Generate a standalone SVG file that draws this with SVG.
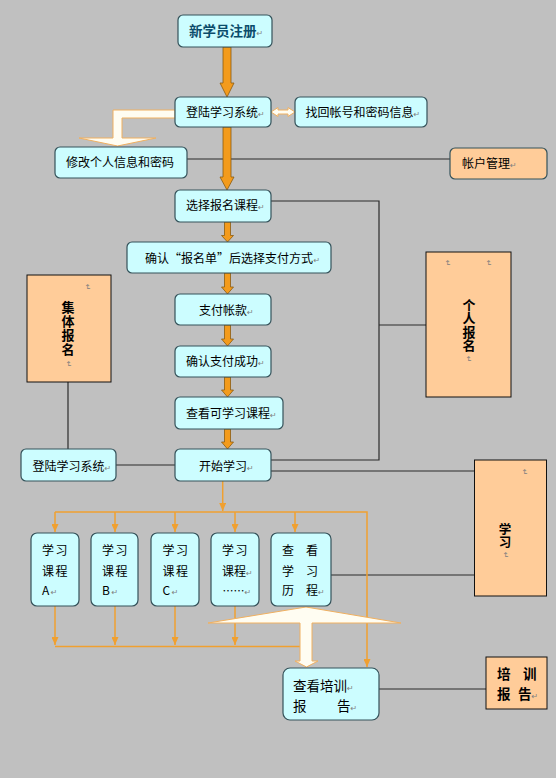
<svg xmlns="http://www.w3.org/2000/svg" width="556" height="778" viewBox="0 0 556 778">
<defs>
<style>
.box{fill:#ccfdff;stroke:#34525a;stroke-width:1.2}
.obox{fill:#ffcc99;stroke:#111;stroke-width:1}
.orbox{fill:#ffcc99;stroke:#34525a;stroke-width:1.2}
.t{font-family:"Noto Sans CJK SC","Liberation Sans",sans-serif;font-size:12px;fill:#000}
.tb{font-family:"Noto Sans CJK SC","Liberation Sans",sans-serif;font-size:13px;font-weight:bold;fill:#000}
.vt{writing-mode:vertical-rl;text-orientation:upright}
.rm{font-family:"DejaVu Sans",sans-serif;font-size:8px;font-weight:normal;fill:#808080}
.ln{stroke:#2b2b2b;stroke-width:1.2;fill:none}
.ol{stroke:#f0a030;stroke-width:1.5;fill:none}
.oa{fill:#f39b1c;stroke:#8a5a10;stroke-width:0.8}
.wa{fill:#fffdf2;stroke:#f0b060;stroke-width:1}
</style>
<marker id="oh" viewBox="0 0 8 7" refX="8" refY="3.5" markerWidth="8" markerHeight="7" markerUnits="userSpaceOnUse" orient="auto">
<path d="M0,0 L8,3.5 L0,7 z" fill="#f0a030"/>
</marker>
</defs>
<rect width="556" height="778" fill="#c0c0c0"/>

<g id="connectors">
<path class="ln" d="M187,159 H450"/>
<path class="ln" d="M271,201 H379 V460 H271"/>
<path class="ln" d="M379,325 H426"/>
<path class="ln" d="M68,382 V449"/>
<path class="ln" d="M116,465 H175"/>
<path class="ln" d="M271,471 H474.5"/>
<path class="ln" d="M330.5,575 H474.5"/>
<path class="ln" d="M379,689 H486"/>
<polygon class="oa" points="223,47 231,47 231,83 234,83 227,97 220,83 223,83"/>
<polygon class="oa" points="223,127 231,127 231,177 234,177 227,190 220,177 223,177"/>
<polygon class="oa" points="224.5,222 230.5,222 230.5,235.5 233.5,235.5 227.5,242 221.5,235.5 224.5,235.5"/>
<polygon class="oa" points="224.5,273 230.5,273 230.5,287 233.5,287 227.5,294 221.5,287 224.5,287"/>
<polygon class="oa" points="224.5,325 230.5,325 230.5,339 233.5,339 227.5,346 221.5,339 224.5,339"/>
<polygon class="oa" points="224.5,377 230.5,377 230.5,390 233.5,390 227.5,397 221.5,390 224.5,390"/>
<polygon class="oa" points="224.5,429 230.5,429 230.5,442 233.5,442 227.5,449 221.5,442 224.5,442"/>
<polygon class="wa" points="175,110 113,110 113,138 79,138 117.5,146 156,138 122,138 122,118 175,118"/>
<polygon class="wa" points="271,112 278,107.5 278,110 288,110 288,107.5 295,112 288,116.5 288,114 278,114 278,116.5"/>
<path class="ol" d="M222.7,481 V511" marker-end="url(#oh)"/>
<path class="ol" d="M55,512 H367 V667" marker-end="url(#oh)"/>
<path class="ol" d="M55,512 V532" marker-end="url(#oh)"/>
<path class="ol" d="M115,512 V532" marker-end="url(#oh)"/>
<path class="ol" d="M175,512 V532" marker-end="url(#oh)"/>
<path class="ol" d="M235,512 V532" marker-end="url(#oh)"/>
<path class="ol" d="M295,512 V532" marker-end="url(#oh)"/>
<path class="ol" d="M55,606 V645" marker-end="url(#oh)"/>
<path class="ol" d="M115,606 V645" marker-end="url(#oh)"/>
<path class="ol" d="M175,606 V645" marker-end="url(#oh)"/>
<path class="ol" d="M235,606 V645" marker-end="url(#oh)"/>
<path class="ol" d="M55,646.5 H300"/>
<polygon class="wa" points="306,607 401,623 312,623 312,661 318,661 306.5,667 295,661 300,661 300,623 208,623"/>
</g>

<g id="n1"><rect class="box" x="178" y="15" width="94" height="32" rx="5"/>
<text class="tb" x="189" y="36" style="fill:#0b4c6b;font-size:13.5px">新学员注册<tspan class="rm">↵</tspan></text></g>
<g id="n2"><rect class="box" x="175" y="97" width="96" height="30" rx="5"/>
<text class="t" x="186" y="116.5">登陆学习系统<tspan class="rm">↵</tspan></text></g>
<g id="n3"><rect class="box" x="295" y="97" width="132" height="30" rx="5"/>
<text class="t" x="305.5" y="116.5">找回帐号和密码信息<tspan class="rm">↵</tspan></text></g>
<g id="n4"><rect class="box" x="55" y="147" width="132" height="31" rx="5"/>
<text class="t" x="66" y="167">修改个人信息和密码</text></g>
<g id="n5"><rect class="orbox" x="450" y="148" width="97" height="31" rx="5"/>
<text class="t" x="462" y="167.5">帐户管理<tspan class="rm">↵</tspan></text></g>
<g id="n6"><rect class="box" x="175" y="190" width="96" height="32" rx="5"/>
<text class="t" x="186" y="209.5">选择报名课程<tspan class="rm">↵</tspan></text></g>
<g id="n7"><rect class="box" x="127" y="242" width="204" height="31" rx="5"/>
<text class="t" x="145" y="263" textLength="168" lengthAdjust="spacing">确认“报名单”后选择支付方式</text>
<text class="rm" x="313.5" y="263">↵</text></g>
<g id="n8"><rect class="box" x="175" y="294" width="96" height="31" rx="5"/>
<text class="t" x="199" y="314.5">支付帐款<tspan class="rm">↵</tspan></text></g>
<g id="n9"><rect class="box" x="175" y="346" width="96" height="31" rx="5"/>
<text class="t" x="186" y="366">确认支付成功<tspan class="rm">↵</tspan></text></g>
<g id="n10"><rect class="box" x="175" y="397" width="108" height="32" rx="5"/>
<text class="t" x="186" y="417.5">查看可学习课程<tspan class="rm">↵</tspan></text></g>
<g id="n11"><rect class="box" x="175" y="449" width="96" height="32" rx="5"/>
<text class="t" x="199" y="470.5">开始学习<tspan class="rm">↵</tspan></text></g>
<g id="n12"><rect class="box" x="21" y="449" width="95" height="32" rx="5"/>
<text class="t" x="32.5" y="470.5">登陆学习系统<tspan class="rm">↵</tspan></text></g>
<g id="n13"><rect class="obox" x="27" y="275" width="84" height="107"/>
<text class="tb vt" x="68" y="300.5" style="letter-spacing:1px">集体报名</text>
<text class="rm" transform="translate(85,284) rotate(90)">↵</text>
<text class="rm" transform="translate(66,361) rotate(90)">↵</text></g>
<g id="n14"><rect class="obox" x="426" y="252" width="85" height="145"/>
<text class="tb vt" x="469" y="298.5" style="letter-spacing:0.5px">个人报名</text>
<text class="rm" transform="translate(445,260) rotate(90)">↵</text>
<text class="rm" transform="translate(486,260) rotate(90)">↵</text>
<text class="rm" transform="translate(466,356) rotate(90)">↵</text></g>
<g id="n15"><rect class="obox" x="474.5" y="460" width="72" height="136"/>
<text class="tb vt" x="505" y="523" style="font-size:12.5px">学习</text>
<text class="rm" transform="translate(522,469) rotate(90)">↵</text>
<text class="rm" transform="translate(503,552) rotate(90)">↵</text></g>
<g id="nA"><rect class="box" x="31" y="533" width="48" height="73" rx="6"/>
<text class="t" style="letter-spacing:1.5px"><tspan x="42" y="554.5">学习</tspan><tspan x="42" y="575.5">课程</tspan><tspan x="42" y="595">A<tspan class="rm">↵</tspan></tspan></text></g>
<g id="nB"><rect class="box" x="91" y="533" width="47" height="73" rx="6"/>
<text class="t" style="letter-spacing:1.5px"><tspan x="102" y="554.5">学习</tspan><tspan x="102" y="575.5">课程</tspan><tspan x="102" y="595">B<tspan class="rm">↵</tspan></tspan></text></g>
<g id="nC"><rect class="box" x="151" y="533" width="48" height="73" rx="6"/>
<text class="t" style="letter-spacing:1.5px"><tspan x="162.5" y="554.5">学习</tspan><tspan x="162.5" y="575.5">课程</tspan><tspan x="162.5" y="595">C<tspan class="rm">↵</tspan></tspan></text></g>
<g id="nD"><rect class="box" x="211" y="533" width="48" height="73" rx="6"/>
<text class="t"><tspan x="222" y="554.5" style="letter-spacing:1.5px">学习</tspan><tspan x="222" y="575.5">课程<tspan class="rm">↵</tspan></tspan><tspan x="222.5" y="595" style="font-size:11px">……<tspan class="rm">↵</tspan></tspan></text></g>
<g id="nE"><rect class="box" x="271" y="533" width="60" height="73" rx="6"/>
<text class="t"><tspan x="282 306" y="554.5">查看</tspan><tspan x="282 306" y="575.5">学习</tspan><tspan x="282 306" y="595">历程</tspan><tspan class="rm">↵</tspan></text></g>
<g id="n16"><rect class="box" x="283" y="668" width="96" height="52" rx="7"/>
<text class="t" style="font-size:13.5px"><tspan x="293" y="691">查看培训</tspan><tspan class="rm">↵</tspan><tspan x="293 337" y="710.5">报告</tspan><tspan class="rm">↵</tspan></text></g>
<g id="n17"><rect class="obox" x="486" y="657" width="61" height="52"/>
<text class="tb" style="font-size:13.5px"><tspan x="497 523" y="679">培训</tspan><tspan x="497 518" y="699">报告</tspan><tspan class="rm">↵</tspan></text></g>
</svg>
